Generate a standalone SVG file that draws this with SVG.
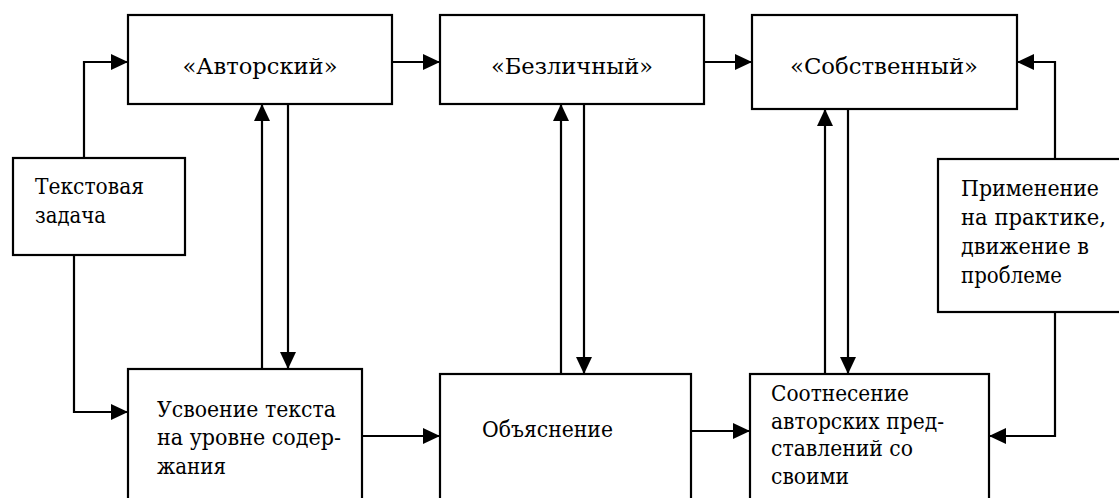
<svg xmlns="http://www.w3.org/2000/svg" width="1119" height="498" viewBox="0 0 1119 498">
<style>
  .box { fill: #fff; stroke: #000; stroke-width: 2.2; }
  .con { fill: none; stroke: #000; stroke-width: 2.2; marker-end: url(#ah); }
</style>
<defs>
  <marker id="ah" markerUnits="userSpaceOnUse" markerWidth="17" markerHeight="16" refX="17" refY="8" orient="auto">
    <path d="M0,0 L17,8 L0,16 z" fill="#000"/>
  </marker>
</defs>
<rect width="1119" height="498" fill="#fff"/>

<g id="connectors">
  <path class="con" d="M84 158 V62 H128"/>
  <path class="con" d="M74 255 V412 H128"/>
  <path class="con" d="M392 62 H440"/>
  <path class="con" d="M704 62 H752"/>
  <path class="con" d="M1055 159 V62 H1017"/>
  <path class="con" d="M1055 312 V436 H989"/>
  <path class="con" d="M362 436 H440"/>
  <path class="con" d="M691 431 H750"/>
  <path class="con" d="M262 369 V104"/>
  <path class="con" d="M288 104 V369"/>
  <path class="con" d="M561 374 V104"/>
  <path class="con" d="M584 104 V374"/>
  <path class="con" d="M825 374 V109"/>
  <path class="con" d="M848 109 V374"/>
</g>

<g font-family="DejaVu Serif, serif" font-size="22" fill="#000">
<g id="avtorskiy">
  <rect class="box" x="128" y="15" width="264" height="89"/>
  <text x="260" y="74" text-anchor="middle" textLength="155" lengthAdjust="spacingAndGlyphs">«Авторский»</text>
</g>
<g id="bezlichnyy">
  <rect class="box" x="440" y="15" width="264" height="89"/>
  <text x="572" y="74" text-anchor="middle" textLength="162" lengthAdjust="spacingAndGlyphs">«Безличный»</text>
</g>
<g id="sobstvennyy">
  <rect class="box" x="752" y="15" width="265" height="94"/>
  <text x="884" y="74" text-anchor="middle" textLength="188" lengthAdjust="spacingAndGlyphs">«Собственный»</text>
</g>
<g id="tekstovaya">
  <rect class="box" x="13" y="158" width="172" height="97"/>
  <text x="35" y="194" textLength="109" lengthAdjust="spacingAndGlyphs">Текстовая</text>
  <text x="35" y="223" textLength="71" lengthAdjust="spacingAndGlyphs">задача</text>
</g>
<g id="primenenie">
  <rect class="box" x="938" y="159" width="200" height="153"/>
  <text x="961" y="196" textLength="138" lengthAdjust="spacingAndGlyphs">Применение</text>
  <text x="961" y="225" textLength="145" lengthAdjust="spacingAndGlyphs">на практике,</text>
  <text x="961" y="254" textLength="128" lengthAdjust="spacingAndGlyphs">движение в</text>
  <text x="961" y="283" textLength="101" lengthAdjust="spacingAndGlyphs">проблеме</text>
</g>
<g id="usvoenie">
  <rect class="box" x="128" y="369" width="234" height="140"/>
  <text x="157" y="417" textLength="179" lengthAdjust="spacingAndGlyphs">Усвоение текста</text>
  <text x="157" y="445" textLength="184" lengthAdjust="spacingAndGlyphs">на уровне содер-</text>
  <text x="157" y="474" textLength="69" lengthAdjust="spacingAndGlyphs">жания</text>
</g>
<g id="obyasnenie">
  <rect class="box" x="440" y="374" width="251" height="135"/>
  <text x="482" y="437" textLength="131" lengthAdjust="spacingAndGlyphs">Объяснение</text>
</g>
<g id="sootnesenie">
  <rect class="box" x="750" y="374" width="239" height="135"/>
  <text x="771" y="401" textLength="138" lengthAdjust="spacingAndGlyphs">Соотнесение</text>
  <text x="771" y="429" textLength="173" lengthAdjust="spacingAndGlyphs">авторских пред-</text>
  <text x="771" y="456" textLength="142" lengthAdjust="spacingAndGlyphs">ставлений со</text>
  <text x="771" y="484" textLength="78" lengthAdjust="spacingAndGlyphs">своими</text>
</g>
</g>
</svg>
